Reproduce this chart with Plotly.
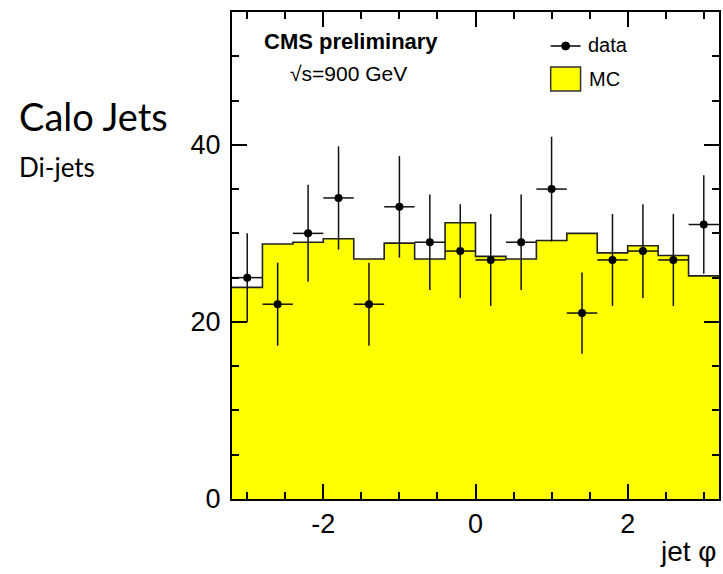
import numpy as np
import plotly.graph_objects as go

# jet phi binning: 16 bins of width 0.4 from -3.2 to 3.2
bin_edges = [-3.2, -2.8, -2.4, -2.0, -1.6, -1.2, -0.8, -0.4, 0.0,
             0.4, 0.8, 1.2, 1.6, 2.0, 2.4, 2.8, 3.2]
bin_centers = [-3.0, -2.6, -2.2, -1.8, -1.4, -1.0, -0.6, -0.2,
               0.2, 0.6, 1.0, 1.4, 1.8, 2.2, 2.6, 3.0]

# observed di-jet counts per bin
data_counts = [25, 22, 30, 34, 22, 33, 29, 28, 27, 29, 35, 21, 27, 28, 27, 31]

# simulated expectation per bin
mc_counts = [23.9, 28.8, 29.0, 29.4, 27.1, 28.9, 27.1, 31.2,
             27.4, 27.1, 29.2, 30.0, 27.8, 28.6, 27.5, 25.2]

W, H = 723, 574
L, R, T, B = 232, 721, 12, 499


def px(xp):
    return (xp - L) / (R - L)


def py(yp):
    return (B - yp) / (B - T)


fig = go.Figure()

# MC histogram drawn as a filled step outline
step_x = list(bin_edges)
step_y = list(mc_counts) + [mc_counts[-1]]
fig.add_trace(go.Scatter(
    x=step_x, y=step_y, mode="lines", line_shape="hv",
    line=dict(color="#222222", width=1.6),
    fill="tozeroy", fillcolor="#ffff00", showlegend=False,
    hoverinfo="skip",
))

# data points with Poisson errors and bin-width x errors
half_width = [0.2] * len(bin_centers)
fig.add_trace(go.Scatter(
    x=bin_centers, y=data_counts, mode="markers",
    marker=dict(color="black", size=8),
    error_y=dict(type="data", array=list(np.sqrt(data_counts)),
                 color="#111111", thickness=1.5, width=0),
    error_x=dict(type="data", array=half_width,
                 color="#111111", thickness=1.5, width=0),
    showlegend=False,
))

axis_font = dict(family="Liberation Sans, Arial, sans-serif", size=27, color="black")

fig.update_xaxes(
    range=[-3.2, 3.2], tickvals=[-2, 0, 2], ticktext=["-2", "0", "2"],
    ticks="inside", ticklen=15, tickwidth=1.5, tickcolor="black",
    minor=dict(dtick=0.5, tick0=0, ticks="inside", ticklen=7,
               tickwidth=1.5, tickcolor="black"),
    showline=True, linecolor="black", linewidth=2, mirror="allticks",
    showgrid=False, zeroline=False, tickfont=axis_font,
    ticklabelstandoff=0,
)
fig.update_yaxes(
    range=[0, 55], tickvals=[0, 20, 40], ticktext=["0", "20", "40"],
    ticks="inside", ticklen=15, tickwidth=1.5, tickcolor="black",
    minor=dict(dtick=5, tick0=0, ticks="inside", ticklen=7,
               tickwidth=1.5, tickcolor="black"),
    showline=True, linecolor="black", linewidth=2, mirror="allticks",
    showgrid=False, zeroline=False, tickfont=axis_font,
    ticklabelstandoff=4,
)

side_font = "Lato, Open Sans, sans-serif"
helv = "Liberation Sans, Arial, sans-serif"

annotations = [
    dict(text="Calo Jets", x=px(16), y=py(116), xanchor="left", yanchor="middle",
         font=dict(family=side_font, size=38, color="black")),
    dict(text="Di-jets", x=px(16), y=py(167), xanchor="left", yanchor="middle",
         font=dict(family=side_font, size=26, color="black")),
    dict(text="<b>CMS preliminary</b>", x=px(262), y=py(41), xanchor="left",
         yanchor="middle", font=dict(family=helv, size=22, color="black")),
    dict(text="\u221as=900 GeV", x=px(288), y=py(73), xanchor="left",
         yanchor="middle", font=dict(family=helv, size=21, color="black")),
    dict(text="data", x=px(587), y=py(45), xanchor="left", yanchor="middle",
         font=dict(family=helv, size=20, color="black")),
    dict(text="MC", x=px(588), y=py(79), xanchor="left", yanchor="middle",
         font=dict(family=helv, size=20, color="black")),
    dict(text="jet \u03c6", x=1.0, y=py(551), xanchor="right", yanchor="middle",
         font=dict(family=helv, size=28, color="black")),
]
for a in annotations:
    a.update(xref="paper", yref="paper", showarrow=False)

shapes = [
    # legend: data marker with line
    dict(type="line", xref="paper", yref="paper",
         x0=px(552), x1=px(582), y0=py(46), y1=py(46),
         line=dict(color="black", width=1.5)),
    dict(type="circle", xref="paper", yref="paper",
         x0=px(563), x1=px(571), y0=py(50), y1=py(42),
         fillcolor="black", line=dict(color="black", width=1)),
    # legend: MC fill box
    dict(type="rect", xref="paper", yref="paper",
         x0=px(552), x1=px(582), y0=py(91), y1=py(67),
         fillcolor="#ffff00", line=dict(color="#333333", width=1.5)),
]

fig.update_layout(
    width=W, height=H,
    margin=dict(l=L, r=W - R, t=T, b=H - B),
    paper_bgcolor="white", plot_bgcolor="white",
    annotations=annotations, shapes=shapes,
    showlegend=False,
)

fig.write_html("out.html")
